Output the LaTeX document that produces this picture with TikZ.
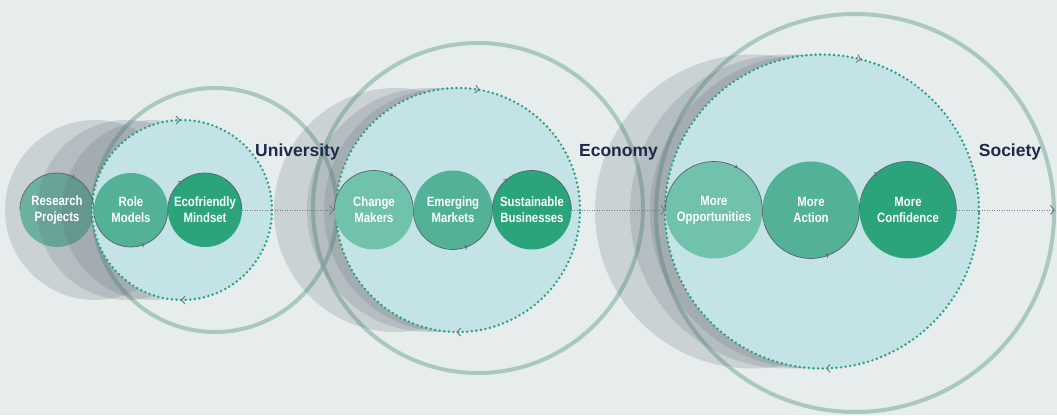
\documentclass[tikz,border=0pt]{standalone}
\usepackage{fontspec}
\usepackage{tikz}
\usetikzlibrary{arrows.meta}
\usetikzlibrary{decorations.markings}
\newfontfamily\titlefont{Liberation Sans}
\newfontfamily\bubblefont[FakeStretch=0.84]{Liberation Sans}
\definecolor{bgcol}{HTML}{E7ECEC}
\definecolor{cyclefill}{HTML}{C4E3E6}
\definecolor{dotcol}{HTML}{26A07F}
\definecolor{ringcol}{HTML}{A0C2B8}
\definecolor{shadecol}{HTML}{5C6B75}
\definecolor{greenA}{HTML}{70C2AD}
\definecolor{greenB}{HTML}{53B197}
\definecolor{greenC}{HTML}{2BA47B}
\definecolor{navy}{HTML}{1E2A4C}
\definecolor{linkcol}{HTML}{6F7C83}
\tikzset{
  bubble/.style={circle, inner sep=0pt, minimum size=#1, text=white, align=center,
    font=\bubblefont\bfseries\fontsize{13.5}{16}\selectfont},
  shade/.style={fill=shadecol, fill opacity=0.2},
  outerring/.style={draw=ringcol, line width=4pt, draw opacity=0.85},
  dotcircle/.style 2 args={fill=cyclefill, draw=dotcol, line width=2.7pt,
    dash pattern=on 0pt off 4.6pt, line cap=round, postaction={decorate},
    decoration={markings,
      mark=at position #1 with {\arrowreversed{Straight Barb[length=3.5pt,width=8pt,line width=1pt,color=linkcol]}},
      mark=at position #2 with {\arrowreversed{Straight Barb[length=3.5pt,width=8pt,line width=1pt,color=linkcol]}}}},
  flowline/.style={draw=linkcol!80!black, line width=0.7pt, postaction={decorate},
    decoration={markings,
      mark=at position 0.22 with {\arrow{Straight Barb[length=2pt,width=4pt]}},
      mark=at position 0.54 with {\arrow{Straight Barb[length=2pt,width=4pt]}},
      mark=at position 0.76 with {\arrow{Straight Barb[length=2pt,width=4pt]}}}},
  link/.style={draw=linkcol, line width=0.8pt, dash pattern=on 1pt off 1.5pt,
    -{Straight Barb[length=4pt,width=9pt,line width=0.9pt]}},
  title/.style={anchor=base, text=navy, font=\titlefont\bfseries\fontsize{17.5}{20}\selectfont}
}
\begin{document}
\begin{tikzpicture}[x=1pt,y=1pt]
\fill[bgcol] (0,0) rectangle (1057,415);
\useasboundingbox (0,0) rectangle (1057,415);

% big rings
\draw[outerring] (215,205) circle (122);
\draw[outerring] (478,207) circle (165);
\draw[outerring] (855,202) circle (199);

% first bubble sits under the shadows
\fill[greenA] (57,205) circle (37);

% shadows
\fill[shade] (95,205) circle (90);
\fill[shade] (127,205) circle (90);
\fill[shade] (152,205) circle (90);
\fill[shade] (396,205) circle (122);
\fill[shade] (429,205) circle (122);
\fill[shade] (446,205) circle (122);
\fill[shade] (752,203.5) circle (157);
\fill[shade] (787,203.5) circle (157);
\fill[shade] (807,203.5) circle (157);

% dotted cycles
\draw[dotcircle={0.253}{0.748}] (182,205) circle (90);
\draw[dotcircle={0.222}{0.748}] (458,205) circle (122);
\draw[dotcircle={0.21}{0.754}] (822,203.5) circle (157);

\node[bubble=74] (research) at (57,205) {Research\\Projects};
\node[bubble=74, fill=greenB] (role) at (131,205) {Role\\Models};
\node[bubble=74, fill=greenC] (eco) at (205,205) {Ecofriendly\\Mindset};

\node[bubble=79, fill=greenA] (change) at (374,205) {Change\\Makers};
\node[bubble=79, fill=greenB] (emerging) at (453,205) {Emerging\\Markets};
\node[bubble=79, fill=greenC] (sustain) at (532,205) {Sustainable\\Businesses};

\node[bubble=97, fill=greenA] (opport) at (714,205) {More\\Opportunities};
\node[bubble=97, fill=greenB] (action) at (811,205) {More\\Action};
\node[bubble=97, fill=greenC] (confid) at (908,205) {More\\Confidence};

% flow through the bubbles
\draw[flowline] (research.west) arc[start angle=180, end angle=0, radius=37]
  arc[start angle=180, end angle=360, radius=37] arc[start angle=180, end angle=0, radius=37];
\draw[flowline] (change.west) arc[start angle=180, end angle=0, radius=39.5]
  arc[start angle=180, end angle=360, radius=39.5] arc[start angle=180, end angle=0, radius=39.5];
\draw[flowline] (opport.west) arc[start angle=180, end angle=0, radius=48.5]
  arc[start angle=180, end angle=360, radius=48.5] arc[start angle=180, end angle=0, radius=48.5];

% links
\coordinate (exit) at (1055,205);
\draw[link] (eco.east) -- (change.west);
\draw[link] (sustain.east) -- (opport.west);
\draw[link] (confid.east) -- (exit);

\node[title] (univ) at (297.5,258) {University};
\node[title] (econ) at (618.5,258) {Economy};
\node[title] (soc) at (1010,258) {Society};
\end{tikzpicture}
\end{document}
